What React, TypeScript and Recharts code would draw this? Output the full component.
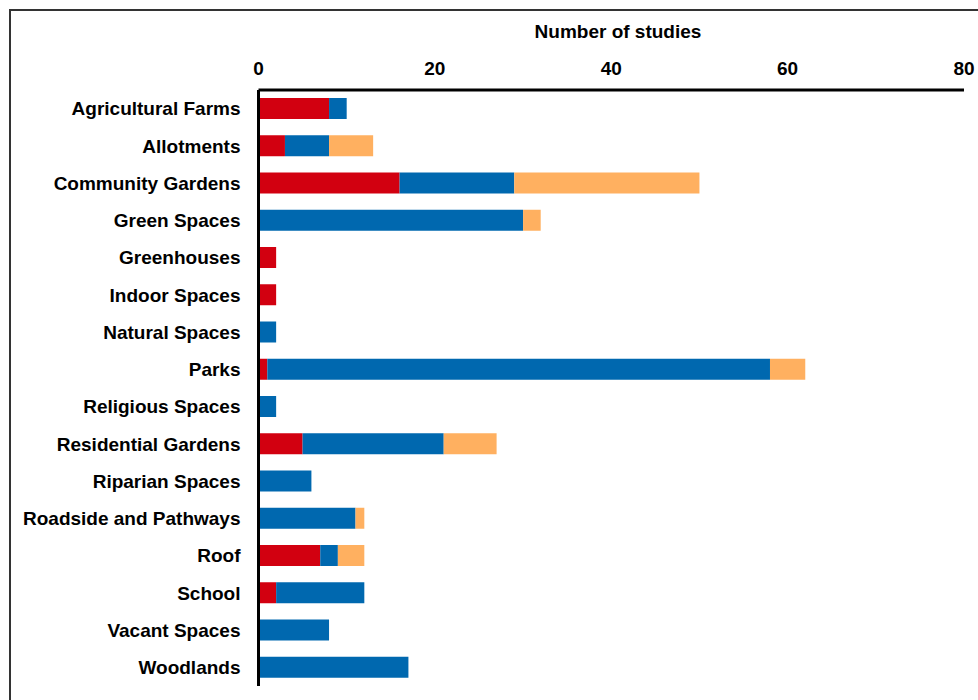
import React from "react"
import { BarChart, Bar, XAxis, YAxis } from "recharts"

const categories = [
  "Agricultural Farms",
  "Allotments",
  "Community Gardens",
  "Green Spaces",
  "Greenhouses",
  "Indoor Spaces",
  "Natural Spaces",
  "Parks",
  "Religious Spaces",
  "Residential Gardens",
  "Riparian Spaces",
  "Roadside and Pathways",
  "Roof",
  "School",
  "Vacant Spaces",
  "Woodlands",
]

const redValues = [8, 3, 16, 0, 2, 2, 0, 1, 0, 5, 0, 0, 7, 2, 0, 0]
const blueValues = [2, 5, 13, 30, 0, 0, 2, 57, 2, 16, 6, 11, 2, 10, 8, 17]
const orangeValues = [0, 5, 21, 2, 0, 0, 0, 4, 0, 6, 0, 1, 3, 0, 0, 0]

const xTicks = [0, 20, 40, 60, 80]

const data = categories.map((name, i) => ({
  name,
  red: redValues[i],
  blue: blueValues[i],
  orange: orangeValues[i],
}))

const font = "'Liberation Sans', Arial, sans-serif"
const tickStyle = { fontFamily: font, fontSize: 19, fontWeight: 700, fill: "#000" }

export default function App() {
  return (
    <div style={{ position: "absolute", left: 0, top: 0, width: 978, height: 700, overflow: "hidden", background: "#fff" }}>
      <div
        style={{
          position: "absolute",
          left: 9,
          top: 9,
          width: 1000,
          height: 1000,
          border: "2px solid #333",
        }}
      />
      <div
        style={{
          position: "absolute",
          left: 418,
          width: 400,
          top: 21,
          textAlign: "center",
          fontFamily: font,
          fontSize: 19,
          fontWeight: 700,
          color: "#000",
        }}
      >
        Number of studies
      </div>
      <div style={{ position: "absolute", left: 0, top: 0 }}>
        <BarChart
          width={978}
          height={700}
          data={data}
          layout="vertical"
          margin={{ top: 60, right: 14, bottom: 14, left: 8.5 }}
          barSize={21}
        >
          <XAxis
            type="number"
            orientation="top"
            domain={[0, 80]}
            ticks={xTicks}
            height={30}
            tickLine={false}
            tickSize={0}
            tickMargin={15}
            axisLine={{ stroke: "#000", strokeWidth: 3 }}
            tick={tickStyle}
          />
          <YAxis
            type="category"
            dataKey="name"
            width={250}
            interval={0}
            tickLine={false}
            tickSize={0}
            tickMargin={18}
            axisLine={{ stroke: "#000", strokeWidth: 3 }}
            tick={tickStyle}
          />
          <Bar dataKey="red" stackId="a" fill="#D20010" isAnimationActive={false} />
          <Bar dataKey="blue" stackId="a" fill="#0068AF" isAnimationActive={false} />
          <Bar dataKey="orange" stackId="a" fill="#FFB060" isAnimationActive={false} />
        </BarChart>
      </div>
    </div>
  )
}
